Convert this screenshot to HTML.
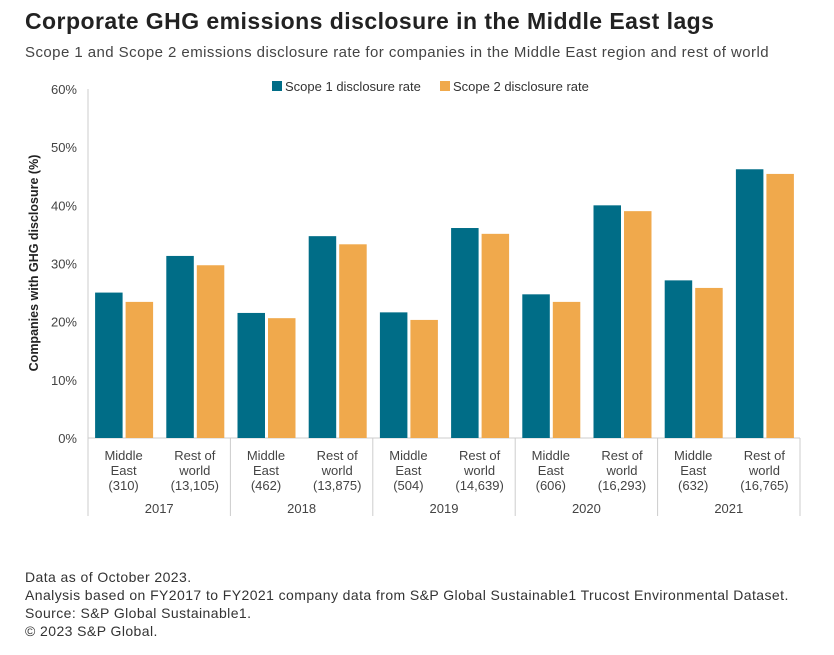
<!DOCTYPE html>
<html><head><meta charset="utf-8"><style>
body{margin:0;background:#fff;width:834px;height:655px;overflow:hidden;font-family:"Liberation Sans",sans-serif;}
.t{position:absolute;left:25px;top:8px;font-size:23px;letter-spacing:0.45px;font-weight:bold;color:#222;}
.s{position:absolute;left:25px;top:44px;font-size:15px;letter-spacing:0.44px;color:#444;}
.f{position:absolute;left:25px;top:568px;font-size:14px;letter-spacing:0.42px;color:#333;line-height:18px;}
svg{position:absolute;left:0;top:0;}
</style></head><body>
<div class="t">Corporate GHG emissions disclosure in the Middle East lags</div>
<div class="s">Scope 1 and Scope 2 emissions disclosure rate for companies in the Middle East region and rest of world</div>
<svg id="c" width="834" height="655"></svg>
<div class="f">Data as of October 2023.<br>Analysis based on FY2017 to FY2021 company data from S&amp;P Global Sustainable1 Trucost Environmental Dataset.<br>Source: S&amp;P Global Sustainable1.<br>© 2023 S&amp;P Global.</div>
<script>
const years=["2017","2018","2019","2020","2021"];
const regions=["Middle East","Rest of world"];
const counts=["(310)","(13,105)","(462)","(13,875)","(504)","(14,639)","(606)","(16,293)","(632)","(16,765)"];
const scope1=[25.0,31.3,21.5,34.7,21.6,36.1,24.7,40.0,27.1,46.2];
const scope2=[23.4,29.7,20.6,33.3,20.3,35.1,23.4,39.0,25.8,45.4];
const yTicks=[0,10,20,30,40,50,60];
const svg=document.getElementById('c');const NS="http://www.w3.org/2000/svg";
const x0=88,x1=800,yb=438,yt=89,yMax=60;
const y=v=>yb-(v/yMax)*(yb-yt);
const cw=(x1-x0)/scope1.length;
function mk(t,a,txt){const e=document.createElementNS(NS,t);for(const k in a)e.setAttribute(k,a[k]);if(txt!==undefined)e.textContent=txt;svg.appendChild(e);return e;}
yTicks.forEach(v=>{const e=mk('text',{x:77,y:y(v)+5,'text-anchor':'end','font-size':13,fill:'#444'},v+'%');

});
let e=mk('line',{x1:x0,y1:yt,x2:x0,y2:516,stroke:'#ccc'});


e=mk('line',{x1:x0,y1:yb,x2:x1,y2:yb,stroke:'#ccc'});


e=mk('text',{transform:'translate(38,263) rotate(-90)','text-anchor':'middle','font-size':12.5,'font-weight':'bold',fill:'#222'},'Companies with GHG disclosure (%)');


scope1.forEach((v,i)=>{const cx=x0+cw*i+cw/2;
const b1=mk('rect',{x:cx-28.5,y:y(v),width:27.5,height:yb-y(v),fill:'#006d87'});


const v2=scope2[i];
const b2=mk('rect',{x:cx+2,y:y(v2),width:27.5,height:yb-y(v2),fill:'#f0a94c'});


const lines=i%2?["Rest of","world"]:["Middle","East"];
lines.concat([counts[i]]).forEach((l,j)=>{const t=mk('text',{x:cx,y:460+j*15,'text-anchor':'middle','font-size':13,fill:'#444'},l);

});
});
years.forEach((yr,k)=>{const gx=x0+cw*2*(k+1);
const l=mk('line',{x1:gx,y1:yb,x2:gx,y2:516,stroke:'#ccc'});


const t=mk('text',{x:x0+cw*2*k+cw,y:513,'text-anchor':'middle','font-size':13,fill:'#444'},yr);

});
[[272,'#006d87','Scope 1 disclosure rate'],[440,'#f0a94c','Scope 2 disclosure rate']].forEach(([lx,c,txt],i)=>{
const r=mk('rect',{x:lx,y:81,width:10,height:10,fill:c});


const t=mk('text',{x:lx+13,y:91,'font-size':13,fill:'#333'},txt);

});
</script>
</body></html>
